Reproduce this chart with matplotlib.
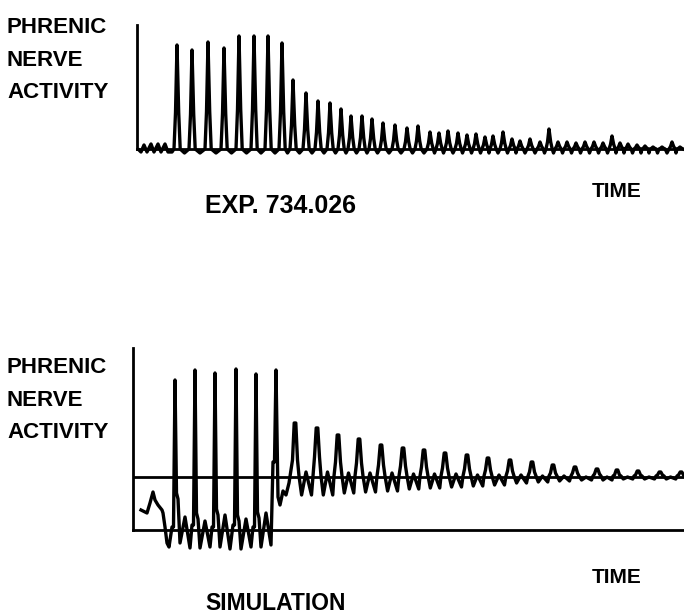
"""Phrenic nerve activity: experiment trace (top) vs. simulation (bottom)."""
import matplotlib
matplotlib.use("Agg")
import matplotlib.pyplot as plt

W, H = 684, 616

# ---- top trace (EXP. 734.026): values above baseline, time in arbitrary units
top_pre_t = [139, 141, 144, 147, 151, 154, 158, 161, 165, 168, 172]
top_pre_v = [-1, -3, 4, -3, 5, -3, 5, -3, 5, -3, -3]
top_peak_t = [177, 192, 208, 224, 239, 254, 268, 282, 293, 306, 318, 330, 341,
              351, 362, 372, 383, 395, 407, 418, 430, 439, 448, 458, 467, 476,
              485, 493, 503, 512, 520, 530, 540, 549, 558, 567, 576, 585, 594,
              603, 612, 620, 628, 637, 645, 653, 662, 672, 680]
top_peak_h = [104, 99, 107, 101, 113, 113, 113, 106, 69, 56, 48, 46, 40,
              33, 33, 30, 26, 24, 21, 23, 17, 16, 18, 16, 14, 15,
              12, 13, 17, 10, 8, 10, 7, 20, 7, 7, 6, 7, 7,
              6, 13, 6, 5, 4, 3, 2, 2, 7, 2]
TOP_TROUGH = -4

# ---- bottom trace (SIMULATION)
bot_pre_t = [141, 145, 147, 150, 153, 155, 158, 162, 163, 165, 167, 169]
bot_pre_v = [-33, -35, -36, -26, -15, -23, -28, -33, -36, -50, -66, -70]
# burst phase: big spikes with fast oscillation in between
bot_spike_t = [175, 195, 215, 236, 256, 276]
bot_spike_h = [97, 107, 104, 108, 103, 107]
bot_spike_base = [-50, -48, -50, -48, -50, 15]
bot_shoulder = [-16, -36, -32, -38, -35]
bot_dip1 = [-66, -71, -70, -72, -70]
bot_hump = [-40, -44, -38, -42, -36]
bot_dip2 = [-71, -70, -72, -70, -68]
# drop after the last spike
bot_trans_t = [278, 280, 283, 286, 289]
bot_trans_v = [-20, -28, -14, -18, -6]
# post-burst phase: decaying peaks above the upper line
post_peak_t = [295, 317, 338, 359, 381, 403, 424, 445, 467, 488, 510, 532,
               553, 575, 597, 617, 638, 660, 681]
post_peak_h = [54, 49, 42, 38, 32, 29, 27, 24, 22, 19, 17, 15, 12, 10, 8, 7,
               6, 5, 5]
post_shoulder = [17, 20, 15, 14, 12, 11, 10, 9, 8, 7, 6, 5, 4, 4, 3, 2, 2, 2, 2]
post_dip = [-18, -18, -16, -15, -14, -12, -11, -10, -9, -8, -6, -5, -4, -3,
            -3, -2, -2, -2]
post_hump = [5, 5, 4, 4, 4, 3, 3, 3, 2, 2, 2, 1, 1, 0, 0, 0, 0, 0]
BOT_LOWER = -53      # lower reference line
AXIS_TOP = 124

TRACE_LW = 2.4
AXIS_LW = 2.0


def top_trace():
    xs, ys = list(top_pre_t), list(top_pre_v)
    n = len(top_peak_t)
    for i, (t, h) in enumerate(zip(top_peak_t, top_peak_h)):
        xs += [t - 3.0, t - 1.5, t, t + 1.7, t + 3.2]
        ys += [0, 0.35 * h, h, 0.35 * h, 0]
        if i + 1 < n:
            xs.append((t + top_peak_t[i + 1]) / 2)
            ys.append(TOP_TROUGH)
    return xs, ys


def bottom_trace():
    xs, ys = list(bot_pre_t), list(bot_pre_v)
    for i, (t, h) in enumerate(zip(bot_spike_t, bot_spike_h)):
        xs += [t - 3, t - 1.5, t]
        ys += [bot_spike_base[i], bot_spike_base[i], h]
        if i < len(bot_shoulder):
            xs += [t + 1.5, t + 3, t + 5, t + 10, t + 15]
            ys += [bot_shoulder[i], bot_shoulder[i] - 6, bot_dip1[i],
                   bot_hump[i], bot_dip2[i]]
    xs += bot_trans_t
    ys += bot_trans_v
    n = len(post_peak_t)
    for i, (p, h) in enumerate(zip(post_peak_t, post_peak_h)):
        sh = post_shoulder[i]
        xs += [p - 2.5, p - 0.8, p + 0.8, p + 2.5]
        ys += [sh, h, h, sh]
        if i + 1 < n:
            d = post_peak_t[i + 1] - p
            xs += [p + 4, p + 0.3 * d, p + 0.5 * d, p + 0.75 * d, p + d - 4]
            ys += [1, post_dip[i], post_hump[i], post_dip[i], 1]
    return xs, ys


def make_axes(fig, left, top, bottom, ymin, ymax):
    ax = fig.add_axes([left / W, 1 - bottom / H, 1 - left / W, (bottom - top) / H])
    ax.set_xlim(left, W)
    ax.set_ylim(ymin, ymax)
    ax.set_xticks([])
    ax.set_yticks([])
    ax.patch.set_visible(False)
    for s in ("top", "right"):
        ax.spines[s].set_visible(False)
    for s in ("left", "bottom"):
        ax.spines[s].set_linewidth(AXIS_LW)
    return ax


fig = plt.figure(figsize=(W / 100, H / 100), dpi=100)
fig.patch.set_facecolor("white")

# top panel: baseline at 0, axis goes up to AXIS_TOP
ax1 = make_axes(fig, 137, 20, 160, -11, 129)
ax1.spines["bottom"].set_position(("data", 0))
ax1.spines["left"].set_bounds(0, AXIS_TOP)
x, y = top_trace()
ax1.plot(x, y, color="black", lw=TRACE_LW, solid_joinstyle="round", clip_on=False)

# bottom panel: upper line at 0, lower line at BOT_LOWER
ax2 = make_axes(fig, 133, 345, 560, -83, 132)
ax2.spines["bottom"].set_position(("data", BOT_LOWER))
ax2.spines["left"].set_bounds(BOT_LOWER, AXIS_TOP + 5)
ax2.axhline(0, color="black", lw=AXIS_LW)
x, y = bottom_trace()
ax2.plot(x, y, color="black", lw=TRACE_LW, solid_joinstyle="round", clip_on=False)

font = dict(family="Liberation Sans", fontweight="bold", color="black",
            va="baseline", ha="left")


def label(x, y, s, size):
    fig.text(x / W, 1 - y / H, s, fontsize=size, **font)


for y0 in (33, 373):
    label(7, y0, "PHRENIC", 16)
    label(7, y0 + 33, "NERVE", 16)
    label(7, y0 + 65, "ACTIVITY", 16)

label(592, 197, "TIME", 15)
label(205, 213, "EXP. 734.026", 18)
label(592, 583, "TIME", 15)
label(205, 610, "SIMULATION", 16.5)

fig.savefig("out.png", dpi=100, facecolor="white")
